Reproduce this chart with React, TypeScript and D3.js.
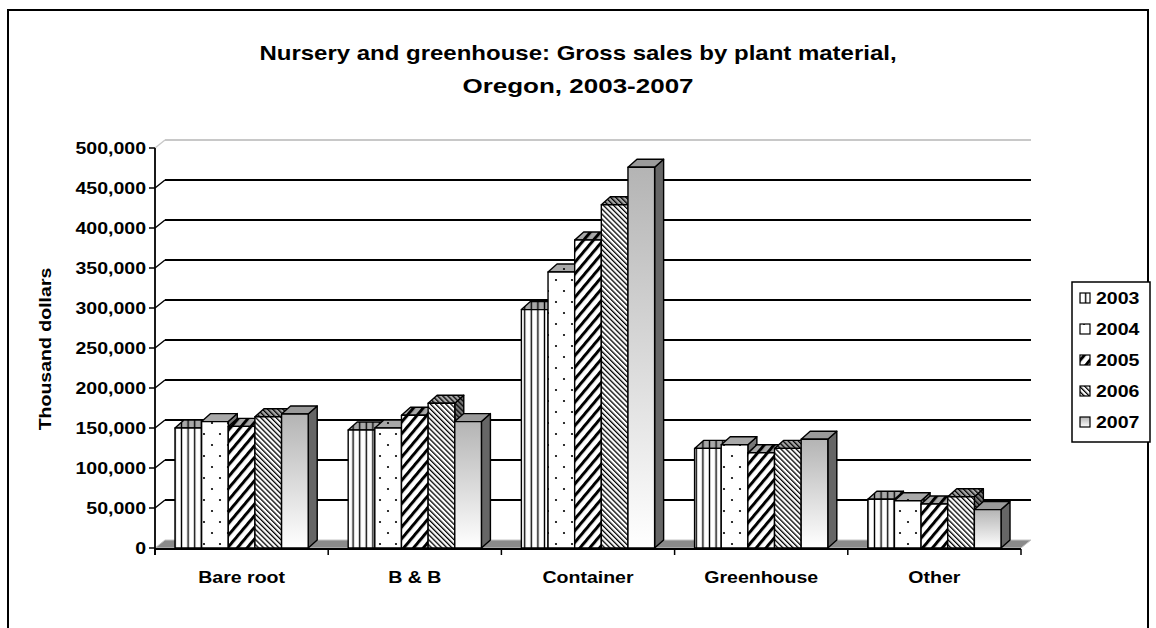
import React from 'react';
import * as d3 from 'd3';

// Oregon nursery & greenhouse gross sales, thousand dollars
const categories = ['Bare root', 'B & B', 'Container', 'Greenhouse', 'Other'];
const years = ['2003', '2004', '2005', '2006', '2007'];
const sales2003 = [150000, 147500, 298000, 124500, 61000];
const sales2004 = [158000, 150000, 345000, 129000, 59000];
const sales2005 = [152000, 166000, 385000, 119000, 55000];
const sales2006 = [164000, 181000, 429000, 124500, 64000];
const sales2007 = [167500, 158000, 476000, 136000, 48000];
const yTicks = [0, 50000, 100000, 150000, 200000, 250000, 300000, 350000, 400000, 450000, 500000];

const W = 1156;
const H = 628;
const FONT = '"Liberation Sans", Arial, Helvetica, sans-serif';
const DX = 9, DY = -8; // 3d depth of bars
const WX = 10, WY = -8; // depth of walls

const kinds = ['vlines', 'dots', 'thick', 'thin', 'grad'];

function Pat({ id, kind, bg }: { id: string; kind: string; bg: string }) {
  if (kind === 'vlines') {
    return (
      <pattern id={id} patternUnits="userSpaceOnUse" width={6.6} height={8}>
        <rect width={6.6} height={8} fill={bg} />
        <line x1={3.3} x2={3.3} y1={0} y2={8} stroke="#000" strokeWidth={1.4} />
      </pattern>
    );
  }
  if (kind === 'dots') {
    return (
      <pattern id={id} patternUnits="userSpaceOnUse" width={16} height={22}>
        <rect width={16} height={22} fill={bg} />
        <circle cx={4} cy={5} r={1.1} fill="#000" />
        <circle cx={12} cy={16} r={1.1} fill="#000" />
      </pattern>
    );
  }
  if (kind === 'thick') {
    return (
      <pattern id={id} patternUnits="userSpaceOnUse" width={7.5} height={10} patternTransform="rotate(40)">
        <rect width={7.5} height={10} fill={bg} />
        <rect x={0} width={3} height={10} fill="#000" />
      </pattern>
    );
  }
  return (
    <pattern id={id} patternUnits="userSpaceOnUse" width={3.6} height={10} patternTransform="rotate(-45)">
      <rect width={3.6} height={10} fill={bg} />
      <rect x={0} width={1.3} height={10} fill="#000" />
    </pattern>
  );
}

function T({ x, y, children, anchor = 'start', size = 17, sx = 1.15, rotate = 0 }: any) {
  return (
    <text
      transform={`translate(${x},${y}) rotate(${rotate}) scale(${sx},1)`}
      textAnchor={anchor}
      fontFamily={FONT}
      fontWeight="bold"
      fontSize={size}
      fill="#000"
    >
      {children}
    </text>
  );
}

export default function App() {
  const seriesValues = [sales2003, sales2004, sales2005, sales2006, sales2007];

  const x0 = d3.scaleBand<string>().domain(categories).range([155, 1021]);
  const x1 = d3.scaleBand<string>().domain(years).range([0, x0.bandwidth()]).paddingOuter(0.75).paddingInner(0);
  const y = d3.scaleLinear().domain([0, 500000]).range([548, 148]);
  const fmt = d3.format(',');
  const bw = x1.bandwidth();
  const y0 = y(0);
  const xL = x0.range()[0];
  const xR = x0.range()[1];

  const fill = (si: number, face: string) => {
    if (kinds[si] === 'grad') {
      if (face === 'front') return 'url(#grad2007)';
      return face === 'top' ? '#9a9a9a' : '#666';
    }
    return `url(#p${si}${face})`;
  };

  return (
    <svg width={W} height={H} style={{ position: 'absolute', left: 0, top: 0 }}>
      <defs>
        {kinds.map((k, i) =>
          k === 'grad' ? null : (
            <React.Fragment key={k}>
              <Pat id={`p${i}front`} kind={k} bg="#fff" />
              <Pat id={`p${i}top`} kind={k} bg="#a8a8a8" />
              <Pat id={`p${i}side`} kind={k} bg="#777" />
              <Pat id={`p${i}leg`} kind={k} bg="#fff" />
            </React.Fragment>
          )
        )}
        <linearGradient id="grad2007" x1="0" y1="0" x2="0" y2="1">
          <stop offset="0" stopColor="#b4b4b4" />
          <stop offset="1" stopColor="#ffffff" />
        </linearGradient>
      </defs>

      <rect x={0} y={0} width={W} height={H} fill="#fff" />
      <rect x={8} y={10} width={1140} height={700} fill="none" stroke="#000" strokeWidth={2} />

      <T x={578} y={60} anchor="middle" size={20} sx={1.2}>Nursery and greenhouse: Gross sales by plant material,</T>
      <T x={578} y={93} anchor="middle" size={20} sx={1.3}>Oregon, 2003-2007</T>

      {/* floor */}
      <path
        d={`M${xL},${y0} L${xL + WX},${y0 + WY} L${xR + WX},${y0 + WY} L${xR},${y0} Z`}
        fill="#8a8a8a"
        stroke="#c4c4c4"
        strokeWidth={1}
      />

      {/* wall gridlines */}
      {yTicks.map((t) => {
        if (t === 0) return null;
        const c = t === 500000 ? '#c8c8c8' : '#000';
        return (
          <g key={t}>
            <line x1={xL} y1={y(t)} x2={xL + WX} y2={y(t) + WY} stroke={c} strokeWidth={1.5} />
            <line x1={xL + WX} y1={y(t) + WY} x2={xR + WX} y2={y(t) + WY} stroke={c} strokeWidth={1.8} />
          </g>
        );
      })}

      {/* bars */}
      {categories.map((cat, ci) => (
        <g key={cat}>
          {years.map((yr, si) => {
            const v = seriesValues[si][ci];
            const bx = (x0(cat) as number) + (x1(yr) as number);
            const top = y(v);
            return (
              <g key={yr} stroke="#000" strokeWidth={1.4} strokeLinejoin="round">
                <path
                  d={`M${bx + bw},${top} L${bx + bw + DX},${top + DY} L${bx + bw + DX},${y0 + DY} L${bx + bw},${y0} Z`}
                  fill={fill(si, 'side')}
                />
                <path
                  d={`M${bx},${top} L${bx + DX},${top + DY} L${bx + bw + DX},${top + DY} L${bx + bw},${top} Z`}
                  fill={fill(si, 'top')}
                />
                <rect x={bx} y={top} width={bw} height={y0 - top} fill={fill(si, 'front')} />
              </g>
            );
          })}
        </g>
      ))}

      {/* axes */}
      <line x1={xL} y1={148} x2={xL} y2={555} stroke="#000" strokeWidth={1.8} />
      <line x1={xL} y1={549} x2={xR} y2={549} stroke="#000" strokeWidth={1.8} />
      {yTicks.map((t) => (
        <g key={t}>
          <line x1={149} y1={y(t)} x2={xL} y2={y(t)} stroke="#000" strokeWidth={1.5} />
          <T x={146} y={y(t) + 6}anchor="end">{fmt(t)}</T>
        </g>
      ))}
      {[...categories.map((c) => x0(c) as number), xR].map((xx, i) => (
        <line key={i} x1={xx} y1={549} x2={xx} y2={555} stroke="#000" strokeWidth={1.5} />
      ))}
      {categories.map((c) => (
        <T key={c} x={(x0(c) as number) + x0.bandwidth() / 2} y={583} anchor="middle">{c}</T>
      ))}

      <T x={51} y={349} anchor="middle" rotate={-90}>Thousand dollars</T>

      {/* legend */}
      <rect x={1072} y={282} width={78} height={160} fill="#fff" stroke="#000" strokeWidth={1.5} />
      {years.map((yr, si) => {
        const ry = 298 + si * 31;
        return (
          <g key={yr}>
            <rect
              x={1080}
              y={ry - 5}
              width={10}
              height={10}
              fill={kinds[si] === 'grad' ? 'url(#grad2007)' : `url(#p${si}leg)`}
              stroke="#000"
              strokeWidth={1.2}
            />
            <T x={1096} y={ry + 6}>{yr}</T>
          </g>
        );
      })}
    </svg>
  );
}
